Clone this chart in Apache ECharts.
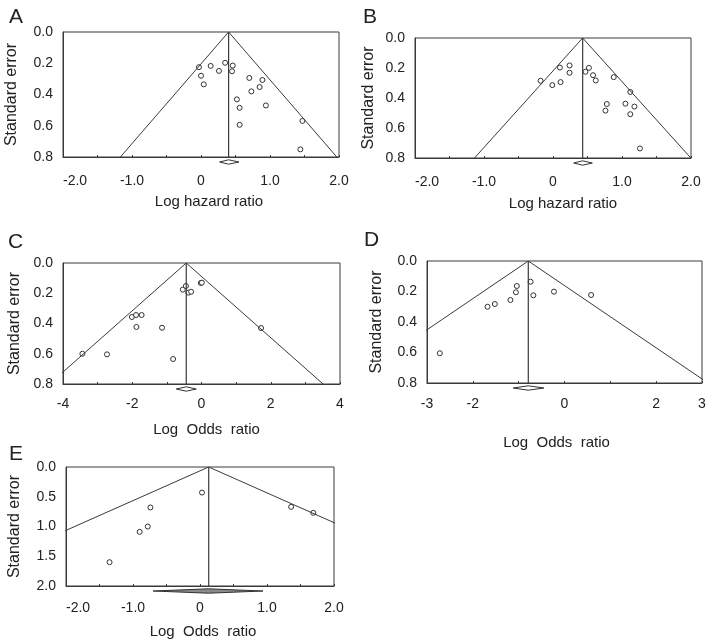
<!DOCTYPE html>
<html>
<head>
<meta charset="utf-8">
<script src="https://cdn.jsdelivr.net/npm/echarts@6/dist/echarts.min.js"></script>
<style>
html,body{margin:0;padding:0;background:#fff;}
#main{width:709px;height:640px;}
</style>
</head>
<body>
<div id="main"></div>
<script>
// ---------- DATA ----------
// Panel A: Log hazard ratio vs standard error
const aLogHR = [-0.03, 0.00, 0.04, 0.14, 0.26, 0.35, 0.46, 0.45, 0.52, 0.56, 0.56, 0.70, 0.73, 0.89, 0.85, 0.94, 1.47, 1.44];
const aSE    = [0.225, 0.28, 0.335, 0.217, 0.249, 0.197, 0.215, 0.251, 0.431, 0.485, 0.594, 0.294, 0.38, 0.307, 0.352, 0.47, 0.569, 0.751];
const aPooled = 0.40, aCI = [0.27, 0.55];

// Panel B
const bLogHR = [-0.18, -0.01, 0.10, 0.11, 0.24, 0.24, 0.47, 0.52, 0.58, 0.62, 0.88, 1.12, 0.78, 0.76, 1.05, 1.18, 1.12, 1.26];
const bSE    = [0.285, 0.314, 0.197, 0.294, 0.183, 0.232, 0.225, 0.199, 0.248, 0.283, 0.261, 0.36, 0.44, 0.484, 0.438, 0.457, 0.508, 0.736];
const bPooled = 0.43, bCI = [0.30, 0.57];

// Panel C: Log odds ratio
const cLogOR = [-3.44, -2.73, -2.01, -1.89, -1.73, -1.88, -1.14, -0.82, -0.54, -0.45, -0.38, -0.30, -0.02, 0.01, 1.72];
const cSE    = [0.60, 0.604, 0.357, 0.344, 0.344, 0.423, 0.428, 0.635, 0.176, 0.152, 0.196, 0.19, 0.132, 0.13, 0.43];
const cPooled = -0.44, cCI = [-0.73, -0.15];

// Panel D
const dLogOR = [-2.72, -1.68, -1.52, -1.18, -1.06, -1.04, -0.74, -0.68, -0.23, 0.58];
const dSE    = [0.605, 0.30, 0.282, 0.256, 0.205, 0.164, 0.136, 0.225, 0.201, 0.223];
const dPooled = -0.79, dCI = [-1.12, -0.45];

// Panel E
const eLogOR = [-1.35, -0.90, -0.78, -0.74, 0.03, 1.36, 1.69];
const eSE    = [1.60, 1.09, 1.00, 0.68, 0.43, 0.67, 0.77];
const ePooled = 0.13, eCI = [-0.70, 0.94];

// funnel half-width multipliers (as drawn)
const funnelK = [1.96, 1.96, 4.94, 4.9, 2.0];

// tick labels
const xLabelsA = {"-2":"-2.0","-1":"-1.0","0":"0","1":"1.0","2":"2.0"};
const xLabelsC = {"-4":"-4","-2":"-2","0":"0","2":"2","4":"4"};
const xLabelsD = {"-3":"-3","-2":"-2","0":"0","2":"2","3":"3"};
const yLabelsSE08 = [0.0, 0.2, 0.4, 0.6, 0.8];
const yLabelsSE20 = [0.0, 0.5, 1.0, 1.5, 2.0];

const panelLetters = ["A","B","C","D","E"];
const xNames = ["Log hazard ratio","Log hazard ratio","Log  Odds  ratio","Log  Odds  ratio","Log  Odds  ratio"];
const yName = "Standard error";

// ---------- LAYOUT / STYLE ----------
const FONT = "Liberation Sans, Arial, sans-serif";
const INK = "#222";
const LINE = "#3a3a3a";

const panels = [
  {x:aLogHR, y:aSE, pooled:aPooled, ci:aCI, xmin:-2, xmax:2, xint:0.5, labels:xLabelsA, ymax:0.8, yint:0.2,
   grid:{left:63, top:32, width:276, height:125}, yGap:43, xGap:37, xMargin:17, alignMin:"left", xPad:[0,0,0,16], letter:[4,2], fill:"#fff"},
  {x:bLogHR, y:bSE, pooled:bPooled, ci:bCI, xmin:-2, xmax:2, xint:0.5, labels:xLabelsA, ymax:0.8, yint:0.2,
   grid:{left:415, top:38, width:276, height:120}, yGap:38, xGap:38, xMargin:17, alignMin:"left", xPad:[0,0,0,20], letter:[358,2], fill:"#fff"},
  {x:cLogOR, y:cSE, pooled:cPooled, ci:cCI, xmin:-4, xmax:4, xint:1, labels:xLabelsC, ymax:0.8, yint:0.2,
   grid:{left:63, top:263, width:277, height:121}, yGap:40, xGap:38, xMargin:13, alignMin:"center", xPad:[0,0,0,10], letter:[3,227], fill:"#fff"},
  {x:dLogOR, y:dSE, pooled:dPooled, ci:dCI, xmin:-3, xmax:3, xint:1, labels:xLabelsD, ymax:0.8, yint:0.2,
   grid:{left:427, top:261, width:275, height:122}, yGap:42, xGap:52, xMargin:14, alignMin:"center", xPad:[0,16,0,0], letter:[359,225], fill:"#fff"},
  {x:eLogOR, y:eSE, pooled:ePooled, ci:eCI, xmin:-2, xmax:2, xint:0.5, labels:xLabelsA, ymax:2.0, yint:0.5,
   grid:{left:66, top:467, width:268, height:119}, yGap:43, xGap:38, xMargin:15, alignMin:"left", xPad:[0,0,0,6], letter:[4,439], fill:"#8a8a8a"}
];

const option = {
  animation:false,
  backgroundColor:"#fff",
  textStyle:{fontFamily:FONT},
  title:[], grid:[], xAxis:[], yAxis:[], series:[]
};

panels.forEach((p, i) => {
  const k = funnelK[i];
  const yLab = p.ymax > 1 ? yLabelsSE20 : yLabelsSE08;
  option.title.push({text:panelLetters[i], left:p.letter[0], top:p.letter[1],
    textStyle:{fontFamily:FONT, fontSize:21, fontWeight:"normal", color:INK}});
  option.grid.push(Object.assign({show:true, borderColor:LINE, borderWidth:1, backgroundColor:"transparent"}, p.grid));
  option.xAxis.push({
    type:"value", gridIndex:i, min:p.xmin, max:p.xmax, interval:p.xint,
    name:xNames[i], nameLocation:"middle", nameGap:p.xGap,
    nameTextStyle:{fontFamily:FONT, fontSize:15, color:INK, padding:p.xPad},
    axisLine:{show:true, onZero:false, lineStyle:{color:LINE, width:1}},
    axisTick:{show:true, inside:true, length:2, lineStyle:{color:LINE}},
    splitLine:{show:false},
    axisLabel:{fontFamily:FONT, fontSize:14, color:INK, margin:p.xMargin, alignMinLabel:p.alignMin,
      formatter:(v) => { const key = String(Math.round(v*1000)/1000); return (key in p.labels) ? p.labels[key] : ""; }}
  });
  option.yAxis.push({
    type:"value", gridIndex:i, min:0, max:p.ymax, interval:p.yint, inverse:true,
    name:yName, nameLocation:"middle", nameGap:p.yGap, nameRotate:90,
    nameTextStyle:{fontFamily:FONT, fontSize:16, color:INK},
    axisLine:{show:true, onZero:false, lineStyle:{color:LINE, width:1}},
    axisTick:{show:false}, splitLine:{show:false},
    axisLabel:{fontFamily:FONT, fontSize:14, color:INK, margin:10,
      formatter:(v) => yLab.some(t => Math.abs(t - v) < 1e-9) ? v.toFixed(1) : ""}
  });
  // funnel lines
  option.series.push({
    type:"line", xAxisIndex:i, yAxisIndex:i, clip:true, symbol:"none", silent:true,
    lineStyle:{color:LINE, width:1},
    data:[[p.pooled - k*p.ymax, p.ymax], [p.pooled, 0], [p.pooled + k*p.ymax, p.ymax]]
  });
  // pooled estimate vertical line
  option.series.push({
    type:"line", xAxisIndex:i, yAxisIndex:i, symbol:"none", silent:true,
    lineStyle:{color:LINE, width:1.2},
    data:[[p.pooled, 0], [p.pooled, p.ymax]]
  });
  // studies
  option.series.push({
    type:"scatter", xAxisIndex:i, yAxisIndex:i, symbol:"circle", symbolSize:5,
    itemStyle:{color:"#fff", borderColor:"#333", borderWidth:1, opacity:1},
    data:p.x.map((v, j) => [v, p.y[j]])
  });
  // pooled diamond below axis
  option.series.push({
    type:"custom", xAxisIndex:i, yAxisIndex:i, clip:false, silent:true,
    data:[[p.ci[0], p.pooled, p.ci[1], p.ymax]],
    renderItem:(params, api) => {
      const l = api.coord([api.value(0), api.value(3)]);
      const c = api.coord([api.value(1), api.value(3)]);
      const r = api.coord([api.value(2), api.value(3)]);
      const cy = l[1] + 5, h = 2.2;
      return {type:"polygon",
        shape:{points:[[l[0], cy], [c[0], cy - h], [r[0], cy], [c[0], cy + h]]},
        style:{fill:p.fill, stroke:"#333", lineWidth:1}};
    }
  });
});

const chart = echarts.init(document.getElementById("main"), null, {renderer:"canvas"});
chart.setOption(option);
</script>
</body>
</html>
